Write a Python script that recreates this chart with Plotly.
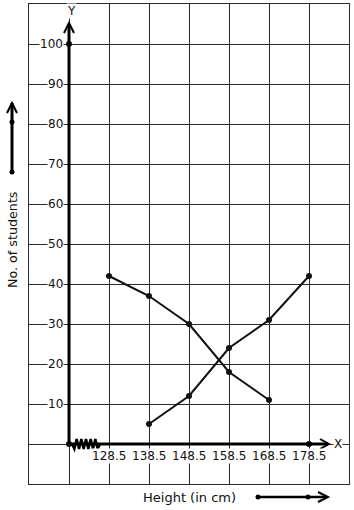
import plotly.graph_objects as go

# ---- data ----
heights_more = [128.5, 138.5, 148.5, 158.5, 168.5]
students_more = [42, 37, 30, 18, 11]
heights_less = [138.5, 148.5, 158.5, 168.5, 178.5]
students_less = [5, 12, 24, 31, 42]
x_tick_vals = [128.5, 138.5, 148.5, 158.5, 168.5, 178.5]
x_tick_text = ["128.5", "138.5", "148.5", "158.5", "168.5", "178.5"]
y_tick_vals = [10, 20, 30, 40, 50, 60, 70, 80, 90, 100]
axis_points_x = [118.5, 118.5, 178.5]
axis_points_y = [0, 100, 0]

W, H = 354, 510
L, R, T, B = 29, 5, 4, 26
X0, X1 = 108.5, 188.5
Y0, Y1 = -10, 110
FONT = "DejaVu Sans"
INK = "#111111"


def px(xp):  # pixel -> paper x
    return (xp - L) / (W - L - R)


def py(yp):  # pixel -> paper y
    return (H - B - yp) / (H - T - B)


fig = go.Figure()

line_style = dict(color="#111111", width=2)
mk = dict(color="#111111", size=6)
fig.add_trace(go.Scatter(x=heights_more, y=students_more, mode="lines+markers",
                         line=line_style, marker=mk, showlegend=False, cliponaxis=False))
fig.add_trace(go.Scatter(x=heights_less, y=students_less, mode="lines+markers",
                         line=line_style, marker=mk, showlegend=False, cliponaxis=False))

shapes = []
ax_line = dict(color="black", width=3)
shapes.append(dict(type="line", xref="paper", yref="paper",
                   x0=px(69), y0=py(444), x1=px(69), y1=py(24), line=ax_line, layer="above"))
shapes.append(dict(type="line", xref="paper", yref="paper",
                   x0=px(69), y0=py(444), x1=px(328), y1=py(444), line=ax_line, layer="above"))
chev = dict(color="black", width=2)
shapes.append(dict(type="path", xref="paper", yref="paper",
                   path=f"M {px(64)},{py(33)} L {px(69)},{py(23)} L {px(74)},{py(33)}",
                   line=chev, layer="above"))
shapes.append(dict(type="path", xref="paper", yref="paper",
                   path=f"M {px(320)},{py(439)} L {px(329)},{py(444)} L {px(320)},{py(449)}",
                   line=chev, layer="above"))
# zigzag break on x-axis
zz = []
n = 12
for i in range(n + 1):
    xp = 72 + i * (100 - 72) / n
    yp = 444 + (5 if i % 2 else -5)
    if i == 0 or i == n:
        yp = 444
    zz.append(f"{'M' if i == 0 else 'L'} {px(xp)},{py(yp)}")
shapes.append(dict(type="path", xref="paper", yref="paper", path=" ".join(zz),
                   line=dict(color="black", width=2.5), layer="above"))

# left side arrow
shapes.append(dict(type="line", xref="paper", yref="paper",
                   x0=px(12), y0=py(172), x1=px(12), y1=py(103), line=ax_line))
shapes.append(dict(type="path", xref="paper", yref="paper",
                   path=f"M {px(7)},{py(113)} L {px(12)},{py(103)} L {px(17)},{py(113)}",
                   line=chev))
for yy in (172, 122):
    shapes.append(dict(type="circle", xref="paper", yref="paper",
                       x0=px(9.5), x1=px(14.5), y0=py(yy + 2.5), y1=py(yy - 2.5),
                       fillcolor="black", line=dict(color="black", width=0)))
# bottom arrow
shapes.append(dict(type="line", xref="paper", yref="paper",
                   x0=px(258), y0=py(497), x1=px(327), y1=py(497),
                   line=dict(color="black", width=2.5)))
shapes.append(dict(type="path", xref="paper", yref="paper",
                   path=f"M {px(318)},{py(492)} L {px(328)},{py(497)} L {px(318)},{py(502)}",
                   line=chev))
for xx in (258, 308):
    shapes.append(dict(type="circle", xref="paper", yref="paper",
                       x0=px(xx - 2.5), x1=px(xx + 2.5), y0=py(499.5), y1=py(494.5),
                       fillcolor="black", line=dict(color="black", width=0)))

fig.add_trace(go.Scatter(x=axis_points_x, y=axis_points_y, mode="markers",
                         marker=mk, showlegend=False, cliponaxis=False))

annotations = []
for v in y_tick_vals:
    annotations.append(dict(x=117.2, y=v, xref="x", yref="y", text=str(v), showarrow=False,
                            xanchor="right", yanchor="middle", bgcolor="white", borderpad=0,
                            font=dict(family=FONT, size=12, color=INK)))
for v, t in zip(x_tick_vals, x_tick_text):
    annotations.append(dict(x=v, y=-3, xref="x", yref="y", text=t, showarrow=False,
                            xanchor="center", yanchor="middle", bgcolor="white", borderpad=0,
                            font=dict(family=FONT, size=12, color=INK)))
annotations.append(dict(x=px(338), y=py(444), xref="paper", yref="paper", text="X",
                        xanchor="center", yanchor="middle",
                        showarrow=False, bgcolor="white", borderpad=0,
                        font=dict(family=FONT, size=12, color=INK)))
annotations.append(dict(x=px(71), y=py(11), xref="paper", yref="paper", text="Y",
                        xanchor="center", yanchor="middle",
                        showarrow=False, bgcolor="white", borderpad=0,
                        font=dict(family=FONT, size=12, color=INK)))
annotations.append(dict(x=px(12), y=py(240), xref="paper", yref="paper",
                        text="No. of students", textangle=-90, showarrow=False,
                        xanchor="center", yanchor="middle",
                        font=dict(family=FONT, size=12.7, color=INK)))
annotations.append(dict(x=px(189.5), y=py(497), xref="paper", yref="paper",
                        text="Height (in cm)", showarrow=False,
                        xanchor="center", yanchor="middle",
                        font=dict(family=FONT, size=13, color=INK)))

grid = dict(showgrid=True, gridcolor="#2a2a2a", gridwidth=1.2, showline=True,
            linecolor="#2a2a2a", linewidth=1.2, mirror=True, zeroline=False,
            showticklabels=False, ticks="", dtick=10)

fig.update_layout(
    width=W, height=H,
    margin=dict(l=L, r=R, t=T, b=B, pad=0),
    paper_bgcolor="white", plot_bgcolor="white",
    xaxis=dict(range=[X0, X1], tick0=108.5, fixedrange=True, **grid),
    yaxis=dict(range=[Y0, Y1], tick0=0, fixedrange=True, **grid),
    shapes=shapes, annotations=annotations, showlegend=False,
)

fig.write_html("out.html")
